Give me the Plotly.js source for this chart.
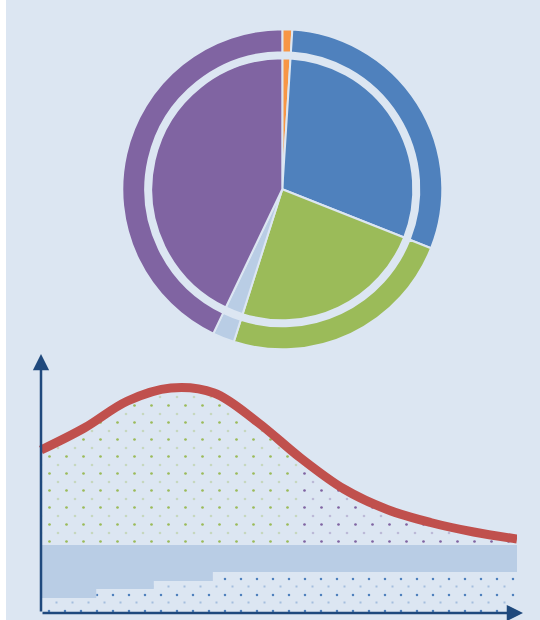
<!DOCTYPE html>
<html>
<head>
<meta charset="utf-8">
<script src="https://cdn.plot.ly/plotly-3.0.1.min.js"></script>
<style>
  html, body { margin: 0; padding: 0; background: #ffffff; }
  #chart { width: 540px; height: 620px; }
</style>
</head>
<body>
<div id="chart"></div>
<script>
// ---- Data ----
// Pie shares, clockwise from 12 o'clock (same split in the inner pie and the outer ring)
const sliceLabels = ['Segment 1', 'Segment 2', 'Segment 3', 'Segment 4', 'Segment 5'];
const sliceValues = [1.0, 30.0, 23.9, 2.2, 42.9];

// Smooth curve across the lower panel (evenly spaced samples)
const curveX = [0, 9.09, 18.18, 27.27, 36.36, 45.45, 54.55, 63.64, 72.73, 81.82, 90.91, 100];
const curveY = [65.2, 74.0, 84.8, 90.0, 88.0, 76.4, 62.0, 49.6, 41.4, 36.2, 32.4, 29.6];
const splitIndex = 6;          // the fill under the curve changes colour at curveX[6]

// Solid band and the stepped level below it
const bandTop = 27.2;
const stepX = [0, 11.6, 23.7, 36.1, 100];
const stepY = [6.0, 9.6, 12.8, 16.4, 16.4];

// ---- Styles ----
const BG = '#dce6f2';
const NAVY = '#1f497d';
const sliceColors = ['#f79646', '#4f81bd', '#9bbb59', '#b9cde5', '#8064a2'];
const W = 540, H = 620;
const clear = 'rgba(0,0,0,0)';

// pie geometry in pixels
const pieCx = 282.3, pieCy = 189.3, outerR = 160, ringInnerR = 137, innerR = 131;
function pieDomain(r) {
  return {
    x: [(pieCx - r) / W, (pieCx + r) / W],
    y: [(H - pieCy - r) / H, (H - pieCy + r) / H]
  };
}

// lower panel geometry in pixels
const axLeft = 41, axRight = 517, axBottom = 613, axTop = 363;
const pxPerX = (axRight - axLeft) / 100, pxPerY = (axBottom - axTop) / 100;
// a second, identical coordinate frame shifted half a dot cell up-left,
// so its dot pattern sits between the dots of the first frame
const half = 8.5;

function bigDots(color, size) {
  return { shape: '.', fgcolor: color, bgcolor: clear, size: size, solidity: 0.02 };
}
function smallDots(color, size) {
  return { shape: '.', fgcolor: color, bgcolor: clear, size: size, solidity: 0.007 };
}

// builds the dotted fills for one coordinate frame
function dottedFills(xa, ya, pat) {
  const common = { type: 'scatter', mode: 'lines', xaxis: xa, yaxis: ya, hoverinfo: 'skip', showlegend: false };
  return [
    Object.assign({}, common, {
      x: stepX, y: stepY, line: { width: 0, shape: 'hv', color: clear },
      fill: 'tozeroy', fillcolor: clear, fillpattern: pat('#4f81bd', 16)
    }),
    Object.assign({}, common, {
      x: [curveX[0], curveX[splitIndex]], y: [bandTop, bandTop], line: { width: 0, color: clear }
    }),
    Object.assign({}, common, {
      x: curveX.slice(0, splitIndex + 1), y: curveY.slice(0, splitIndex + 1),
      line: { width: 0, shape: 'spline', color: clear },
      fill: 'tonexty', fillcolor: clear, fillpattern: pat('#9bbb59', 17)
    }),
    Object.assign({}, common, {
      x: [curveX[splitIndex], curveX[curveX.length - 1]], y: [bandTop, bandTop], line: { width: 0, color: clear }
    }),
    Object.assign({}, common, {
      x: curveX.slice(splitIndex), y: curveY.slice(splitIndex),
      line: { width: 0, shape: 'spline', color: clear },
      fill: 'tonexty', fillcolor: clear, fillpattern: pat('#8064a2', 17)
    })
  ];
}

const traces = [
  // outer ring
  {
    type: 'pie', labels: sliceLabels, values: sliceValues, sort: false,
    direction: 'clockwise', rotation: 0, hole: ringInnerR / outerR,
    domain: pieDomain(outerR),
    marker: { colors: sliceColors, line: { color: BG, width: 2 } },
    textinfo: 'none', hoverinfo: 'label+percent', showlegend: false
  },
  // inner pie
  {
    type: 'pie', labels: sliceLabels, values: sliceValues, sort: false,
    direction: 'clockwise', rotation: 0,
    domain: pieDomain(innerR),
    marker: { colors: sliceColors, line: { color: BG, width: 2 } },
    textinfo: 'none', hoverinfo: 'label+percent', showlegend: false
  }
].concat(
  dottedFills('x', 'y', bigDots),
  [
    // solid band between the steps and the band top
    {
      type: 'scatter', x: stepX, y: stepY, mode: 'lines', line: { width: 0, shape: 'hv', color: clear },
      hoverinfo: 'skip', showlegend: false
    },
    {
      type: 'scatter', x: [stepX[0], stepX[stepX.length - 1]], y: [bandTop, bandTop], mode: 'lines',
      line: { width: 0, color: clear }, fill: 'tonexty', fillcolor: '#b9cde5',
      hoverinfo: 'skip', showlegend: false
    }
  ],
  dottedFills('x2', 'y2', smallDots),
  [
    // the curve itself
    {
      type: 'scatter', x: curveX, y: curveY, mode: 'lines', xaxis: 'x2', yaxis: 'y2',
      line: { width: 9, shape: 'spline', color: '#c0504d' },
      hoverinfo: 'skip', showlegend: false
    }
  ]
);

const hiddenAxis = {
  showgrid: false, zeroline: false, showline: false, showticklabels: false, ticks: '', fixedrange: true
};

const layout = {
  width: W, height: H,
  margin: { l: 0, r: 0, t: 0, b: 0 },
  paper_bgcolor: '#ffffff',
  plot_bgcolor: clear,
  showlegend: false,
  xaxis: Object.assign({ domain: [axLeft / W, axRight / W], range: [0, 100] }, hiddenAxis),
  yaxis: Object.assign({ domain: [(H - axBottom) / H, (H - axTop) / H], range: [0, 100] }, hiddenAxis),
  xaxis2: Object.assign({ anchor: 'y2', domain: [(axLeft - half) / W, axRight / W],
    range: [-half / pxPerX, 100] }, hiddenAxis),
  yaxis2: Object.assign({ anchor: 'x2', domain: [(H - axBottom) / H, (H - axTop + half) / H],
    range: [0, 100 + half / pxPerY] }, hiddenAxis),
  shapes: [
    { type: 'rect', xref: 'paper', yref: 'paper', x0: 6 / W, x1: 1, y0: 0, y1: 1,
      fillcolor: BG, line: { width: 0 }, layer: 'below' }
  ],
  annotations: [
    // vertical axis with arrow
    { xref: 'x domain', yref: 'y domain', axref: 'x domain', ayref: 'y domain',
      x: 0, y: (axBottom - 354) / (axBottom - axTop), ax: 0, ay: 0,
      text: '', showarrow: true, arrowhead: 2, arrowsize: 1.3, arrowwidth: 2.5,
      arrowcolor: NAVY, standoff: 0 },
    // horizontal axis with arrow
    { xref: 'x domain', yref: 'y domain', axref: 'x domain', ayref: 'y domain',
      x: (523 - axLeft) / (axRight - axLeft), y: 0, ax: 0, ay: 0,
      text: '', showarrow: true, arrowhead: 2, arrowsize: 1.3, arrowwidth: 2.5,
      arrowcolor: NAVY, standoff: 0 }
  ]
};

Plotly.newPlot('chart', traces, layout, { displayModeBar: false, staticPlot: true });
</script>
</body>
</html>
